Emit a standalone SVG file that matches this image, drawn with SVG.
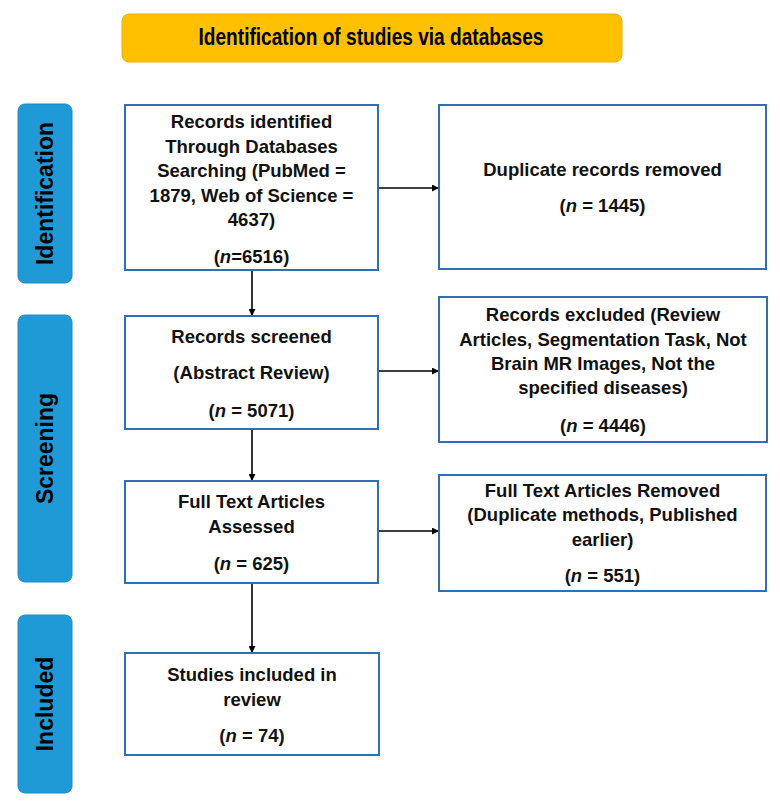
<svg xmlns="http://www.w3.org/2000/svg" width="780" height="804" viewBox="0 0 780 804">
<defs>
<marker id="ah" viewBox="0 0 10 10" refX="10" refY="5" markerWidth="8" markerHeight="7" markerUnits="userSpaceOnUse" orient="auto">
<path d="M0,0 L10,5 L0,10 z" fill="#000"/>
</marker>
<style>
.box{fill:#fff;stroke:#2e6fb7;stroke-width:2}
.side{fill:#1f9ad6;stroke:#1a8cc6;stroke-width:1}
.t{font-family:"Liberation Sans",Arial,sans-serif;font-weight:bold;font-size:18.5px;fill:#111;text-anchor:middle}
.s{font-family:"Liberation Sans",Arial,sans-serif;font-weight:bold;font-size:23px;fill:#000;text-anchor:middle}
.c{stroke:#000;stroke-width:1.6;fill:none;marker-end:url(#ah)}
.i{font-style:italic}
</style>
</defs>
<rect width="780" height="804" fill="#fff"/>
<g id="title">
<rect x="122" y="14" width="500" height="48" rx="7" fill="#ffc000" stroke="#e8b000" stroke-width="1"/>
<text x="371" y="45" class="s" textLength="345" lengthAdjust="spacingAndGlyphs">Identification of studies via databases</text>
</g>
<g id="phase-identification">
<rect x="18" y="104" width="54" height="179" rx="7" class="side"/>
<text class="s" transform="translate(53,193.5) rotate(-90)">Identification</text>
</g>
<g id="phase-screening">
<rect x="18" y="315" width="54" height="267" rx="7" class="side"/>
<text class="s" transform="translate(53,448.5) rotate(-90)">Screening</text>
</g>
<g id="phase-included">
<rect x="18" y="615" width="54" height="178" rx="7" class="side"/>
<text class="s" transform="translate(53,704) rotate(-90)">Included</text>
</g>
<g id="connectors">
<line x1="379" y1="188" x2="439" y2="188" class="c"/>
<line x1="379" y1="371" x2="439" y2="371" class="c"/>
<line x1="379" y1="531" x2="439" y2="531" class="c"/>
<line x1="252" y1="271" x2="252" y2="316" class="c"/>
<line x1="252" y1="430" x2="252" y2="481" class="c"/>
<line x1="252" y1="584" x2="252" y2="653" class="c"/>
</g>
<g id="records-identified">
<rect x="125" y="105" width="253" height="165" class="box"/>
<text class="t" x="251.5" y="128">Records identified</text>
<text class="t" x="251.5" y="153">Through Databases</text>
<text class="t" x="251.5" y="177">Searching (PubMed =</text>
<text class="t" x="251.5" y="202">1879, Web of Science =</text>
<text class="t" x="251.5" y="226">4637)</text>
<text class="t" x="251.5" y="263">(<tspan class="i">n</tspan>=6516)</text>
</g>
<g id="duplicates-removed">
<rect x="439" y="105" width="327" height="164" class="box"/>
<text class="t" x="602.5" y="176">Duplicate records removed</text>
<text class="t" x="602.5" y="212">(<tspan class="i">n</tspan> = 1445)</text>
</g>
<g id="records-screened">
<rect x="125" y="316" width="253" height="113" class="box"/>
<text class="t" x="251.5" y="343">Records screened</text>
<text class="t" x="251.5" y="379">(Abstract Review)</text>
<text class="t" x="251.5" y="417">(<tspan class="i">n</tspan> = 5071)</text>
</g>
<g id="records-excluded">
<rect x="439" y="297" width="328" height="145" class="box"/>
<text class="t" x="603" y="321">Records excluded (Review</text>
<text class="t" x="603" y="346">Articles, Segmentation Task, Not</text>
<text class="t" x="603" y="370">Brain MR Images, Not the</text>
<text class="t" x="603" y="394">specified diseases)</text>
<text class="t" x="603" y="432">(<tspan class="i">n</tspan> = 4446)</text>
</g>
<g id="full-text-assessed">
<rect x="125" y="481" width="253" height="102" class="box"/>
<text class="t" x="251.5" y="508">Full Text Articles</text>
<text class="t" x="251.5" y="533">Assessed</text>
<text class="t" x="251.5" y="570">(<tspan class="i">n</tspan> = 625)</text>
</g>
<g id="full-text-removed">
<rect x="439" y="475" width="327" height="116" class="box"/>
<text class="t" x="602.5" y="497">Full Text Articles Removed</text>
<text class="t" x="602.5" y="521">(Duplicate methods, Published</text>
<text class="t" x="602.5" y="546">earlier)</text>
<text class="t" x="602.5" y="582">(<tspan class="i">n</tspan> = 551)</text>
</g>
<g id="studies-included">
<rect x="125" y="653" width="254" height="102" class="box"/>
<text class="t" x="252" y="681">Studies included in</text>
<text class="t" x="252" y="706">review</text>
<text class="t" x="252" y="742">(<tspan class="i">n</tspan> = 74)</text>
</g>
</svg>
